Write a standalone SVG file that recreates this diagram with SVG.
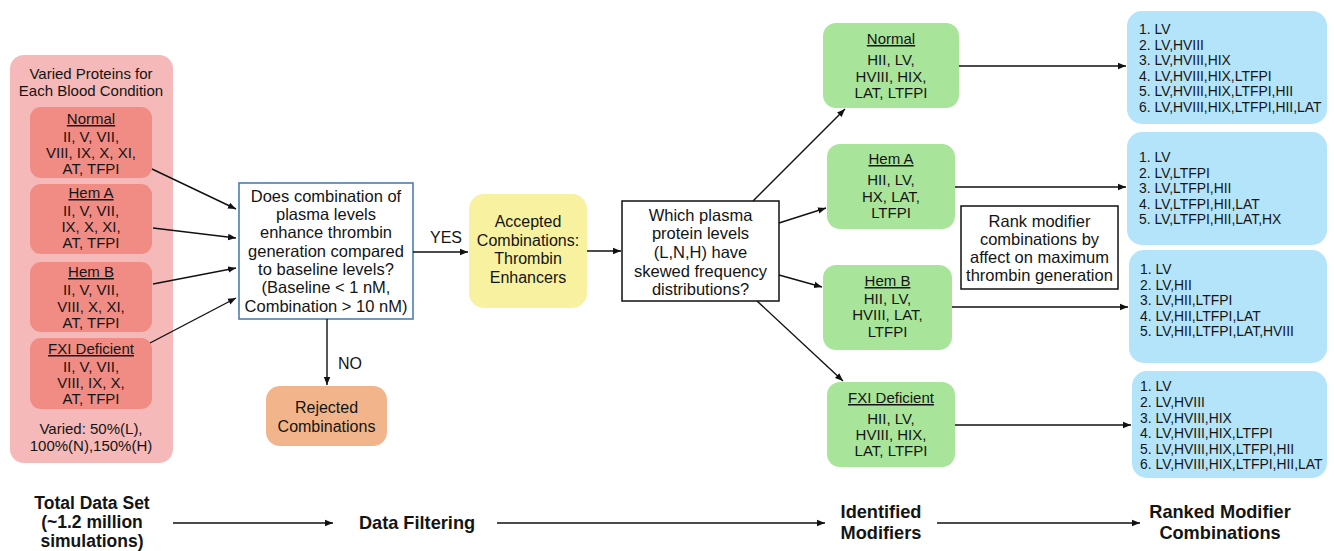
<svg xmlns="http://www.w3.org/2000/svg" width="1334" height="551" viewBox="0 0 1334 551">
<defs>
<marker id="ah" viewBox="0 0 10 10" refX="10" refY="5" markerWidth="8" markerHeight="8" markerUnits="userSpaceOnUse" orient="auto">
<path d="M0,1 L10,5 L0,9 z" fill="#111"/>
</marker>
<style>
text{font-family:"Liberation Sans",Arial,Helvetica,sans-serif;fill:#141414;text-anchor:middle}
.t15{font-size:15px}
.t16{font-size:16px}
.t165{font-size:16.5px}
.blue text{font-size:13.9px;text-anchor:start}
.b{font-size:18.2px;font-weight:bold}
.b2{font-size:17.5px;font-weight:bold}
.u{text-decoration:underline}
.conn line,.conn path{stroke:#111;stroke-width:1.4;fill:none;marker-end:url(#ah)}
.pinkin{fill:#f18c85}
.green{fill:#a9e49b}
.bl{fill:#b4e4fa}
</style>
</defs>
<rect width="1334" height="551" fill="#ffffff"/>

<g id="panel-total">
<rect x="10" y="55" width="163" height="408" rx="14" fill="#f4b9b8"/>
<text class="t15" x="91" y="79">Varied Proteins for</text>
<text class="t15" x="91" y="96">Each Blood Condition</text>
<text class="t15" x="91" y="434">Varied: 50%(L),</text>
<text class="t15" x="91" y="451">100%(N),150%(H)</text>
</g>

<g id="pink-normal">
<rect class="pinkin" x="30" y="107" width="122" height="71" rx="11"/>
<text class="t15 u" x="91" y="124">Normal</text>
<text class="t15" x="91" y="142">II, V, VII,</text>
<text class="t15" x="91" y="158">VIII, IX, X, XI,</text>
<text class="t15" x="91" y="174">AT, TFPI</text>
</g>
<g id="pink-hema">
<rect class="pinkin" x="30" y="184" width="122" height="70" rx="11"/>
<text class="t15 u" x="91" y="198">Hem A</text>
<text class="t15" x="91" y="216">II, V, VII,</text>
<text class="t15" x="91" y="232">IX, X, XI,</text>
<text class="t15" x="91" y="248">AT, TFPI</text>
</g>
<g id="pink-hemb">
<rect class="pinkin" x="30" y="262" width="122" height="70" rx="11"/>
<text class="t15 u" x="91" y="277">Hem B</text>
<text class="t15" x="91" y="295">II, V, VII,</text>
<text class="t15" x="91" y="312">VIII, X, XI,</text>
<text class="t15" x="91" y="328">AT, TFPI</text>
</g>
<g id="pink-fxi">
<rect class="pinkin" x="30" y="338" width="122" height="71" rx="11"/>
<text class="t15 u" x="91" y="354">FXI Deficient</text>
<text class="t15" x="91" y="372">II, V, VII,</text>
<text class="t15" x="91" y="388">VIII, IX, X,</text>
<text class="t15" x="91" y="404">AT, TFPI</text>
</g>

<g id="q-enhance">
<rect x="239" y="183" width="174" height="136" fill="#ffffff" stroke="#4d7db3" stroke-width="1.6"/>
<text class="t165" x="326" y="202">Does combination of</text>
<text class="t165" x="326" y="220">plasma levels</text>
<text class="t165" x="326" y="238">enhance thrombin</text>
<text class="t165" x="326" y="257">generation compared</text>
<text class="t165" x="326" y="275">to baseline levels?</text>
<text class="t165" x="326" y="293">(Baseline &lt; 1 nM,</text>
<text class="t165" x="326" y="312">Combination &gt; 10 nM)</text>
</g>

<g id="rejected">
<rect x="266" y="386" width="121" height="60" rx="14" fill="#f2b48a"/>
<text class="t16" x="326.5" y="413">Rejected</text>
<text class="t16" x="326.5" y="432">Combinations</text>
</g>

<g id="accepted">
<rect x="469" y="194" width="118" height="114" rx="15" fill="#f7f1a0"/>
<text class="t16" x="528" y="227">Accepted</text>
<text class="t16" x="528" y="246">Combinations:</text>
<text class="t16" x="528" y="264">Thrombin</text>
<text class="t16" x="528" y="283">Enhancers</text>
</g>

<g id="q-skewed">
<rect x="622" y="201" width="157" height="100" fill="#ffffff" stroke="#111" stroke-width="1.5"/>
<text class="t165" x="700.5" y="221">Which plasma</text>
<text class="t165" x="700.5" y="239">protein levels</text>
<text class="t165" x="700.5" y="258">(L,N,H) have</text>
<text class="t165" x="700.5" y="277">skewed frequency</text>
<text class="t165" x="700.5" y="295">distributions?</text>
</g>

<g id="green-normal">
<rect class="green" x="823" y="23" width="136" height="85" rx="13"/>
<text class="t15 u" x="891" y="44">Normal</text>
<text class="t15" x="891" y="65">HII, LV,</text>
<text class="t15" x="891" y="82">HVIII, HIX,</text>
<text class="t15" x="891" y="98">LAT, LTFPI</text>
</g>
<g id="green-hema">
<rect class="green" x="827" y="144" width="128" height="85" rx="13"/>
<text class="t15 u" x="891" y="164">Hem A</text>
<text class="t15" x="891" y="185">HII, LV,</text>
<text class="t15" x="891" y="202">HX, LAT,</text>
<text class="t15" x="891" y="218">LTFPI</text>
</g>
<g id="green-hemb">
<rect class="green" x="823" y="265" width="129" height="85" rx="13"/>
<text class="t15 u" x="887.5" y="286">Hem B</text>
<text class="t15" x="887.5" y="304">HII, LV,</text>
<text class="t15" x="887.5" y="320">HVIII, LAT,</text>
<text class="t15" x="887.5" y="337">LTFPI</text>
</g>
<g id="green-fxi">
<rect class="green" x="827" y="382" width="128" height="85" rx="13"/>
<text class="t15 u" x="891" y="403">FXI Deficient</text>
<text class="t15" x="891" y="424">HII, LV,</text>
<text class="t15" x="891" y="440">HVIII, HIX,</text>
<text class="t15" x="891" y="456">LAT, LTFPI</text>
</g>

<g id="rank-note">
<rect x="961" y="206" width="157" height="83" fill="#ffffff" stroke="#111" stroke-width="1.5"/>
<text class="t165" x="1039.5" y="227">Rank modifier</text>
<text class="t165" x="1039.5" y="245">combinations by</text>
<text class="t165" x="1039.5" y="263">affect on maximum</text>
<text class="t165" x="1039.5" y="281">thrombin generation</text>
</g>

<g id="blue-normal" class="blue">
<rect class="bl" x="1127" y="11" width="200" height="113" rx="15"/>
<text x="1139" y="34">1. LV</text>
<text x="1139" y="49.5">2. LV,HVIII</text>
<text x="1139" y="65">3. LV,HVIII,HIX</text>
<text x="1139" y="80.5">4. LV,HVIII,HIX,LTFPI</text>
<text x="1139" y="96">5. LV,HVIII,HIX,LTFPI,HII</text>
<text x="1139" y="111.5">6. LV,HVIII,HIX,LTFPI,HII,LAT</text>
</g>
<g id="blue-hema" class="blue">
<rect class="bl" x="1127" y="132" width="200" height="113" rx="15"/>
<text x="1139" y="162">1. LV</text>
<text x="1139" y="177.5">2. LV,LTFPI</text>
<text x="1139" y="193">3. LV,LTFPI,HII</text>
<text x="1139" y="208.5">4. LV,LTFPI,HII,LAT</text>
<text x="1139" y="224">5. LV,LTFPI,HII,LAT,HX</text>
</g>
<g id="blue-hemb" class="blue">
<rect class="bl" x="1129" y="250" width="198" height="113" rx="15"/>
<text x="1140" y="274">1. LV</text>
<text x="1140" y="289.5">2. LV,HII</text>
<text x="1140" y="305">3. LV,HII,LTFPI</text>
<text x="1140" y="320.5">4. LV,HII,LTFPI,LAT</text>
<text x="1140" y="336">5. LV,HII,LTFPI,LAT,HVIII</text>
</g>
<g id="blue-fxi" class="blue">
<rect class="bl" x="1132" y="371" width="195" height="107" rx="15"/>
<text x="1140" y="391">1. LV</text>
<text x="1140" y="407">2. LV,HVIII</text>
<text x="1140" y="422.5">3. LV,HVIII,HIX</text>
<text x="1140" y="438">4. LV,HVIII,HIX,LTFPI</text>
<text x="1140" y="453.5">5. LV,HVIII,HIX,LTFPI,HII</text>
<text x="1140" y="469">6. LV,HVIII,HIX,LTFPI,HII,LAT</text>
</g>

<g id="stage-labels">
<text class="b2" x="92" y="509">Total Data Set</text>
<text class="b2" x="92" y="528">(~1.2 million</text>
<text class="b2" x="92" y="547">simulations)</text>
<text class="b" x="417" y="529">Data Filtering</text>
<text class="b" x="881" y="518">Identified</text>
<text class="b" x="881" y="539">Modifiers</text>
<text class="b" x="1220" y="518">Ranked Modifier</text>
<text class="b" x="1220" y="539">Combinations</text>
</g>

<g id="edge-labels">
<text class="t16" x="446" y="243">YES</text>
<text class="t16" x="350" y="369">NO</text>
</g>

<g id="connectors" class="conn">
<line x1="152" y1="169" x2="236" y2="209"/>
<line x1="153" y1="228" x2="236" y2="238"/>
<line x1="153" y1="284" x2="236" y2="268"/>
<line x1="150" y1="343" x2="236" y2="298"/>
<line x1="327" y1="319" x2="327" y2="385"/>
<line x1="413" y1="252" x2="468" y2="252"/>
<line x1="587" y1="251" x2="621" y2="251"/>
<line x1="753" y1="201" x2="845" y2="109"/>
<line x1="779" y1="223" x2="826" y2="208"/>
<line x1="779" y1="275" x2="822" y2="287"/>
<line x1="757" y1="301" x2="843" y2="381"/>
<line x1="959" y1="66" x2="1126" y2="66"/>
<line x1="955" y1="187" x2="1126" y2="187"/>
<line x1="952" y1="307" x2="1128" y2="307"/>
<line x1="955" y1="425" x2="1131" y2="425"/>
<line x1="173" y1="523" x2="333" y2="523"/>
<line x1="497" y1="523" x2="825" y2="523"/>
<line x1="937" y1="523" x2="1140" y2="523"/>
</g>
</svg>
